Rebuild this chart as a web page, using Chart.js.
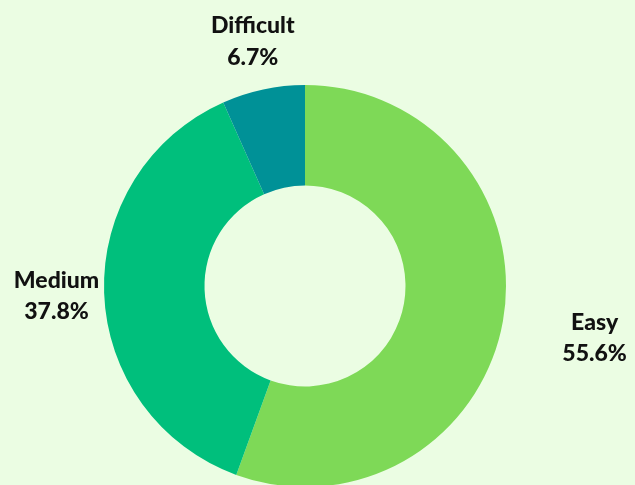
<!DOCTYPE html>
<html>
<head>
<meta charset="utf-8">
<script src="https://cdn.jsdelivr.net/npm/chart.js@4"></script>
<style>
  html, body { margin: 0; padding: 0; background: #ebfde3; overflow: hidden; }
  #wrap { position: relative; width: 635px; height: 488px; }
</style>
</head>
<body>
<div id="wrap"><canvas id="chart"></canvas></div>
<script>
const labels = ['Easy', 'Medium', 'Difficult']
const counts = [25, 17, 3]
const percents = ['55.6%', '37.8%', '6.7%']
const colors = ['#7ed957', '#00bf7c', '#009197']
const labelDist = [1.463, 1.237, 1.249]

// draws "Name\nxx.x%" outside each slice
const outsideLabels = {
  id: 'outsideLabels',
  afterDatasetsDraw(chart) {
    const ctx = chart.ctx
    const meta = chart.getDatasetMeta(0)
    ctx.save()
    ctx.font = '900 23px Lato'
    ctx.fillStyle = '#111'
    ctx.textAlign = 'center'
    ctx.textBaseline = 'middle'
    meta.data.forEach((arc, i) => {
      const mid = (arc.startAngle + arc.endAngle) / 2
      const r = arc.outerRadius * labelDist[i]
      const x = arc.x + Math.cos(mid) * r
      const y = arc.y + Math.sin(mid) * r
      ctx.fillText(labels[i], x, y - 14.5)
      ctx.fillText(percents[i], x, y + 17)
    })
    ctx.restore()
  }
}

new Chart(document.getElementById('chart'), {
  type: 'doughnut',
  data: {
    labels: labels,
    datasets: [{
      data: counts,
      backgroundColor: colors,
      borderWidth: 0
    }]
  },
  options: {
    responsive: true,
    maintainAspectRatio: false,
    animation: false,
    cutout: '50%',
    layout: { padding: { left: 104, right: 129, top: 85, bottom: 1 } },
    plugins: {
      legend: { display: false },
      tooltip: { enabled: false }
    }
  },
  plugins: [outsideLabels]
})
</script>
</body>
</html>
